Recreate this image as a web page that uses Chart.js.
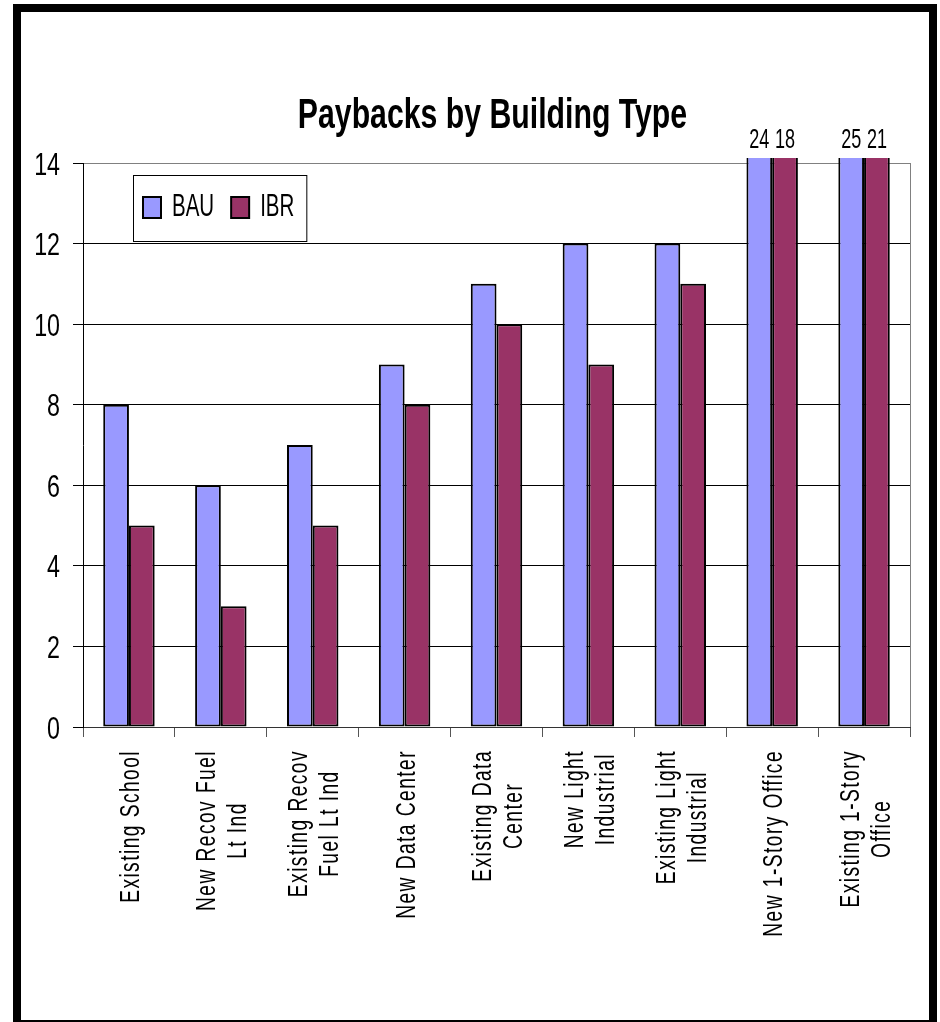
<!DOCTYPE html>
<html>
<head>
<meta charset="utf-8">
<script src="https://cdn.jsdelivr.net/npm/chart.js@4.4.1/dist/chart.umd.min.js"></script>
<style>
  html, body { margin: 0; padding: 0; background: #fff; }
  #wrap { width: 940px; height: 1022px; position: relative; }
</style>
</head>
<body>
<div id="wrap"><canvas id="paybacks"></canvas></div>
<script>
// dati
const categories = [
  ["Existing School"],
  ["New Recov Fuel", "Lt Ind"],
  ["Existing Recov", "Fuel Lt Ind"],
  ["New Data Center"],
  ["Existing Data", "Center"],
  ["New Light", "Industrial"],
  ["Existing Light", "Industrial"],
  ["New 1-Story Office"],
  ["Existing 1-Story", "Office"]
];
const seriesNames = ["BAU", "IBR"];
const bauValues = [8, 6, 7, 9, 11, 12, 12, 24, 25];
const ibrValues = [5, 3, 5, 8, 10, 9, 11, 18, 21];
const chartTitle = "Paybacks by Building Type";
const yMin = 0;
const yMax = 14;
const yStep = 2;

const FONT = "'Liberation Sans', Arial, sans-serif";

// testo "stretto" come Arial Narrow: scala orizzontale e verticale
function narrowText(ctx, text, x, y, o) {
  ctx.save();
  ctx.translate(x, y);
  if (o.rotate) ctx.rotate(o.rotate);
  ctx.scale(o.sx, o.sy);
  ctx.font = (o.bold ? "bold " : "") + o.size + "px " + FONT;
  ctx.letterSpacing = (o.spacing || 0) + "px";
  ctx.textAlign = o.align || "left";
  ctx.textBaseline = "alphabetic";
  ctx.fillStyle = "#000";
  ctx.fillText(text, 0, 0);
  ctx.restore();
}
function narrowWidth(ctx, text, o) {
  ctx.save();
  ctx.font = (o.bold ? "bold " : "") + o.size + "px " + FONT;
  ctx.letterSpacing = (o.spacing || 0) + "px";
  const w = ctx.measureText(text).width * o.sx;
  ctx.restore();
  return w;
}

const framePlugin = {
  id: "frame",
  beforeDraw: (chart) => {
    const { ctx } = chart;
    ctx.save();
    ctx.fillStyle = "#fff";
    ctx.fillRect(0, 0, chart.width, chart.height);
    ctx.strokeStyle = "#000";
    ctx.lineWidth = 8;
    ctx.strokeRect(17, 8, 916, 1016); // cornice nera
    ctx.restore();
  },
  afterDatasetsDraw: (chart) => {
    const { ctx, chartArea } = chart;
    const max = chart.scales.y.max;
    ctx.save();
    ctx.strokeStyle = "#808080";
    ctx.lineWidth = 1;
    ctx.beginPath();
    ctx.moveTo(chartArea.right + 0.5, chartArea.top);
    ctx.lineTo(chartArea.right + 0.5, chartArea.bottom);
    ctx.stroke();
    ctx.restore();
    // valori delle barre che escono dall'asse
    chart.data.datasets.forEach((ds, i) => {
      chart.getDatasetMeta(i).data.forEach((bar, j) => {
        if (ds.data[j] > max) {
          narrowText(ctx, String(ds.data[j]), bar.x, chartArea.top - 15,
            { size: 22, sx: 0.82, sy: 1.25, align: "center" });
        }
      });
    });
  },
  afterDraw: (chart) => {
    const { ctx, chartArea } = chart;
    const xs = chart.scales.x;
    const ys = chart.scales.y;

    // titolo
    narrowText(ctx, chartTitle, (chartArea.left + chartArea.right) / 2 - 4, 128,
      { size: 36, bold: true, sx: 0.84, sy: 1.16, align: "center" });

    // etichette asse y
    ys.ticks.forEach((t) => {
      narrowText(ctx, String(t.value), chartArea.left - 23, ys.getPixelForValue(t.value) + 11.5,
        { size: 28, sx: 0.83, sy: 1.15, align: "right" });
    });

    // etichette asse x ruotate
    const xo = { size: 24, sx: 0.8, sy: 1.16, spacing: 1.8, align: "center", rotate: -Math.PI / 2 };
    const lineGap = 31;
    const top = chartArea.bottom + 23;
    categories.forEach((lines, i) => {
      const cx = xs.getPixelForTick(i);
      const w = Math.max(...lines.map((l) => narrowWidth(ctx, l, xo)));
      lines.forEach((line, k) => {
        const lx = cx + (k - (lines.length - 1) / 2) * lineGap;
        narrowText(ctx, line, lx + 10, top + w / 2, xo);
      });
    });

    // legenda dentro l'area del grafico
    const lo = { size: 25, sx: 0.82, sy: 1.27 };
    const lx = chartArea.left + 50;
    const ly = chartArea.top + 12;
    const items = chart.data.datasets.map((ds) => ({ label: ds.label, color: ds.backgroundColor }));
    let x = lx + 10;
    const pos = [];
    items.forEach((it) => {
      pos.push(x);
      x += 18 + 11 + narrowWidth(ctx, it.label, lo) + 17;
    });
    const boxW = x - lx - 5;
    ctx.save();
    ctx.fillStyle = "#fff";
    ctx.fillRect(lx, ly, boxW, 66);
    ctx.strokeStyle = "#000";
    ctx.lineWidth = 1;
    ctx.strokeRect(lx + 0.5, ly + 0.5, boxW, 66);
    items.forEach((it, k) => {
      ctx.fillStyle = it.color;
      ctx.fillRect(pos[k], ly + 22, 18, 21);
      ctx.lineWidth = 2;
      ctx.strokeRect(pos[k], ly + 22, 18, 21);
    });
    ctx.restore();
    items.forEach((it, k) => narrowText(ctx, it.label, pos[k] + 29, ly + 41, lo));
  }
};

const config = {
  type: "bar",
  data: {
    labels: categories,
    datasets: [
      {
        label: seriesNames[0],
        data: bauValues,
        backgroundColor: "#9999FF",
        borderColor: "#000",
        borderWidth: 2,
        borderSkipped: false,
        clip: { left: 0, top: 5, right: 0, bottom: 0 }
      },
      {
        label: seriesNames[1],
        data: ibrValues,
        backgroundColor: "#993366",
        borderColor: "#000",
        borderWidth: 2,
        borderSkipped: false,
        clip: { left: 0, top: 5, right: 0, bottom: 0 }
      }
    ]
  },
  options: {
    responsive: true,
    maintainAspectRatio: false,
    animation: false,
    layout: { padding: { left: 0, right: 30, top: 163, bottom: 285 } },
    datasets: { bar: { categoryPercentage: 0.56, barPercentage: 1.0 } },
    plugins: {
      legend: { display: false },
      tooltip: { enabled: false },
      title: { display: false }
    },
    scales: {
      x: {
        offset: true,
        grid: { display: true, drawOnChartArea: false, offset: true, tickLength: 10, color: "#555" },
        border: { display: true, color: "#333", width: 1 },
        ticks: { display: false }
      },
      y: {
        min: yMin,
        max: yMax,
        afterFit: (s) => { s.width = 83; },
        ticks: { display: false, stepSize: yStep },
        grid: {
          tickLength: 10,
          color: (c) => (c.tick && c.tick.value === yMax ? "#808080" : "#000"),
          tickColor: "#000",
          lineWidth: 1
        },
        border: { display: true, color: "#000", width: 1 }
      }
    }
  },
  plugins: [framePlugin]
};

let paybacksChart = new Chart(document.getElementById("paybacks"), config);
</script>
</body>
</html>
